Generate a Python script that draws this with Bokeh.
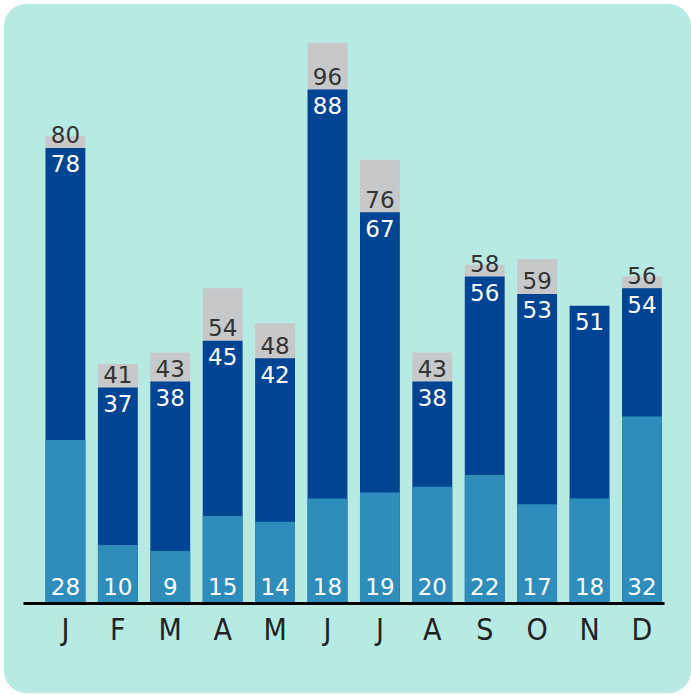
from bokeh.plotting import figure
from bokeh.models import Range1d, ColumnDataSource, FixedTicker
from bokeh.core.properties import value
from bokeh.embed import file_html
from bokeh.resources import INLINE

months = ["J", "F", "M", "A", "M", "J", "J", "A", "S", "O", "N", "D"]
base_vals = [28, 10, 9, 15, 14, 18, 19, 20, 22, 17, 18, 32]
mid_cum = [78, 37, 38, 45, 42, 88, 67, 38, 56, 53, 51, 54]
totals = [80, 41, 43, 54, 48, 96, 76, 43, 58, 59, 51, 56]

BG = "#b8eae4"
LIGHT = "#2e8dbb"
DARK = "#004494"
GRAY = "#c7c8ca"
FONT = "DejaVu Sans"
TICK_FONT = "DejaVu Sans Condensed"

xs = list(range(len(months)))
px_per_unit = 584 / 100.0

src = ColumnDataSource(dict(
    x=xs,
    base=base_vals,
    cum=mid_cum,
    tot=totals,
    base_lbl=[str(v) for v in base_vals],
    cum_lbl=[str(v) for v in mid_cum],
    tot_lbl=[str(t) if t != c else "" for t, c in zip(totals, mid_cum)],
    base_y=[17 / px_per_unit] * len(xs),
    cum_y=[c - 16 / px_per_unit for c in mid_cum],
    tot_y=[c + 13 / px_per_unit for c in mid_cum],
))

p = figure(width=687, height=689, output_backend="svg", toolbar_location=None,
           x_range=Range1d(-0.8, 11.43), y_range=Range1d(0, 100),
           min_border_left=19, min_border_right=27, min_border_top=15, min_border_bottom=90)
p.background_fill_color = BG
p.background_fill_alpha = 0
p.border_fill_color = BG
p.border_fill_alpha = 0
p.outline_line_color = None
p.xgrid.visible = False
p.ygrid.visible = False
p.yaxis.visible = False
p.styles = {"border-radius": "22px", "overflow": "hidden", "margin": "4px 0px 0px 4px",
            "background-color": BG}

w = 0.76
p.vbar(x="x", top="tot", bottom=0, width=w, source=src, fill_color=GRAY, line_color=None)
p.vbar(x="x", top="cum", bottom=0, width=w, source=src, fill_color=DARK, line_color=None)
p.vbar(x="x", top="base", bottom=0, width=w, source=src, fill_color=LIGHT, line_color=None)

p.text(x="x", y="base_y", text="base_lbl", source=src, text_align="center",
       text_baseline="alphabetic", text_color="white", text_font_size="23px",
       text_font=value(FONT))
p.text(x="x", y="cum_y", text="cum_lbl", source=src, text_align="center",
       text_baseline="alphabetic", text_color="white", text_font_size="23px",
       text_font=value(FONT))
p.text(x="x", y="tot_y", text="tot_lbl", source=src, text_align="center",
       text_baseline="alphabetic", text_color="#333333", text_font_size="23px",
       text_font=value(FONT))

ax = p.xaxis[0]
ax.ticker = FixedTicker(ticks=xs)
ax.major_label_overrides = {i: m for i, m in enumerate(months)}
ax.axis_line_color = "black"
ax.axis_line_width = 3
ax.major_tick_line_color = None
ax.minor_tick_line_color = None
ax.major_label_standoff = 2
ax.major_label_text_font = TICK_FONT
ax.major_label_text_font_size = "30px"
ax.major_label_text_color = "#222222"

open("out.html", "w").write(file_html(p, INLINE))
